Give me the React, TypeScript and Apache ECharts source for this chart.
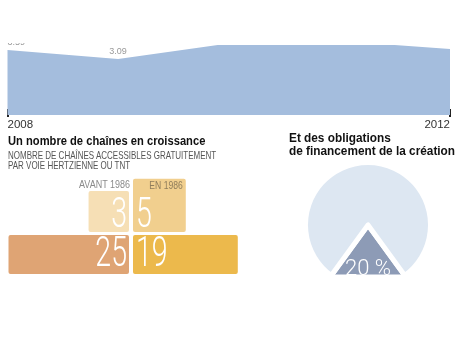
import React, { useEffect, useRef } from "react";
import * as echarts from "echarts";

// ---- data ----
const timelineYears = [2008, 2009, 2009.9, 2011.5, 2012];
const timelineValues = [3.59, 3.09, 3.86, 3.86, 3.64];
const labelledPoints = [0, 1];
const axisYears = ["2008", "2012"];

const periodLabels = ["AVANT 1986", "EN 1986"];
const channelsTop = [3, 5]; // left: before 1986, right: in 1986
const channelsBottom = [25, 19];

const pieValues = [20, 80];
const pieNames = ["Financement de la création", "Autre"];

const SANS = '"Liberation Sans", Arial, sans-serif';
const boxColors = ["#f6dfb5", "#f1cf8e", "#dfa474", "#ecb94c"];
const BAR_DEPTH = 1.65;

export default function App() {
  const ref = useRef<HTMLDivElement>(null);
  useEffect(() => {
    if (!ref.current) return;
    const chart = echarts.init(ref.current, null, { renderer: "svg" });

    const areaData = timelineYears.map((y, i) => {
      const item: any = { value: [y, timelineValues[i]] };
      if (labelledPoints.includes(i)) {
        item.label = { show: true, align: i === 0 ? "left" : "center" };
      }
      return item;
    });

    const pyramidData = [
      [-1, channelsTop[0], 0, 0],
      [1, channelsTop[1], 0, 1],
      [-1, channelsBottom[0], 1, 2],
      [1, channelsBottom[1], 1, 3],
    ];

    const renderItem = (params: any, api: any) => {
      const side = api.value(0);
      const v = api.value(1);
      const row = api.value(2);
      const ci = api.value(3);
      const s = Math.sqrt(v);
      let a, b;
      if (row === 0) {
        a = api.coord([side * s, s]);
        b = api.coord([0, 0]);
      } else {
        a = api.coord([side * s, 0]);
        b = api.coord([0, -BAR_DEPTH]);
      }
      let x0 = Math.min(a[0], b[0]);
      let x1 = Math.max(a[0], b[0]);
      let y0 = Math.min(a[1], b[1]);
      let y1 = Math.max(a[1], b[1]);
      if (side < 0) x1 -= 2; else x0 += 2;
      if (row === 0) y1 -= 1.5; else y0 += 1.5;
      const children: any[] = [
        {
          type: "rect",
          shape: { x: x0, y: y0, width: x1 - x0, height: y1 - y0, r: 2 },
          style: { fill: boxColors[ci] },
        },
      ];
      const tx = side < 0 ? x1 - 2 : x0 + 3;
      const ty = row === 0 ? y1 - 19 : y0 + 17;
      children.push({
        type: "text",
        x: tx,
        y: ty,
        scaleX: 0.68,
        style: {
          text: String(v),
          x: 0,
          y: 0,
          align: side < 0 ? "right" : "left",
          verticalAlign: "middle",
          font: "300 42px Roboto",
          fill: "#ffffff",
        },
      });
      if (row === 0) {
        const left = side < 0;
        children.push({
          type: "text",
          x: left ? x1 + 1 : x1 - 3,
          y: left ? y0 - 7 : y0 + 7,
          scaleX: left ? 0.9 : 0.86,
          style: {
            text: periodLabels[left ? 0 : 1],
            x: 0,
            y: 0,
            align: "right",
            verticalAlign: "middle",
            font: "10px " + SANS,
            fill: left ? "#8a8a8a" : "#8f7d5b",
          },
        });
      }
      return { type: "group", children };
    };

    chart.setOption({
      animation: false,
      grid: [
        { left: 7.5, right: 9, top: 42.5, height: 74.5 },
        { left: 3.6, width: 254.8, top: 174.7, height: 100.45 },
      ],
      xAxis: [
        {
          gridIndex: 0,
          type: "value",
          min: 2008,
          max: 2012,
          interval: 4,
          axisLine: { show: false, onZero: false },
          axisTick: { show: true, inside: true, length: 8, lineStyle: { color: "#222", width: 2 } },
          splitLine: { show: false },
          axisLabel: {
            color: "#333",
            fontSize: 11.5,
            fontFamily: SANS,
            margin: 1,
            alignMinLabel: "left",
            alignMaxLabel: "right",
            formatter: (v: number) => (axisYears.includes(String(v)) ? String(v) : ""),
          },
        },
        { gridIndex: 1, type: "value", min: -5.2, max: 5.2, show: false },
      ],
      yAxis: [
        { gridIndex: 0, type: "value", min: -0.11, max: 4, show: false, splitLine: { show: false } },
        { gridIndex: 1, type: "value", min: -1.7, max: 2.4, show: false, splitLine: { show: false } },
      ],
      series: [
        {
          type: "line",
          xAxisIndex: 0,
          yAxisIndex: 0,
          data: areaData,
          symbol: "circle",
          symbolSize: 0,
          showSymbol: true,
          lineStyle: { width: 0 },
          itemStyle: { color: "#a4bddd" },
          areaStyle: { color: "#a4bddd", opacity: 1 },
          label: {
            show: false,
            position: "top",
            distance: 3,
            fontSize: 9,
            fontFamily: SANS,
            color: "#9a9a9a",
            formatter: (p: any) => p.value[1].toFixed(2),
          },
        },
        {
          type: "custom",
          xAxisIndex: 1,
          yAxisIndex: 1,
          renderItem,
          data: pyramidData,
        },
        {
          type: "pie",
          center: [368, 225],
          radius: 62.5,
          startAngle: -54,
          clockwise: true,
          data: pieValues.map((v, i) => ({
            value: v,
            name: pieNames[i],
            itemStyle: { color: i === 0 ? "#8d9bb6" : "#dde7f2" },
            label: { show: i === 0 },
          })),
          itemStyle: { borderColor: "#ffffff", borderWidth: 5 },
          label: {
            position: "inside",
            formatter: "{c} %",
            color: "#ffffff",
            fontSize: 22,
            fontWeight: 300,
            fontFamily: "Roboto",
          },
          labelLayout: { dy: 8 },
          labelLine: { show: false },
          emphasis: { disabled: true },
        },
      ],
      graphic: [
        {
          type: "text",
          x: 8,
          y: 134,
          scaleX: 0.86,
          style: { text: "Un nombre de chaînes en croissance", font: "bold 13px " + SANS, fill: "#111", verticalAlign: "top" },
        },
        {
          type: "text",
          x: 8,
          y: 150,
          scaleX: 0.8,
          style: {
            text: "NOMBRE DE CHAÎNES ACCESSIBLES GRATUITEMENT\nPAR VOIE HERTZIENNE OU TNT",
            font: "10px " + SANS,
            lineHeight: 10.5,
            fill: "#555",
            verticalAlign: "top",
          },
        },
        {
          type: "text",
          x: 289,
          y: 132,
          scaleX: 0.91,
          style: {
            text: "Et des obligations\nde financement de la création",
            font: "bold 13px " + SANS,
            lineHeight: 12.5,
            fill: "#111",
            verticalAlign: "top",
          },
        },
        { type: "rect", left: 0, top: 0, z: 100, shape: { width: 459, height: 43 }, style: { fill: "#fff" } },
        { type: "rect", left: 0, top: 274.5, z: 100, shape: { width: 459, height: 90 }, style: { fill: "#fff" } },
      ],
    });
    return () => chart.dispose();
  }, []);
  return <div ref={ref} style={{ position: "fixed", left: 0, top: 0, width: 459, height: 364 }} />;
}
